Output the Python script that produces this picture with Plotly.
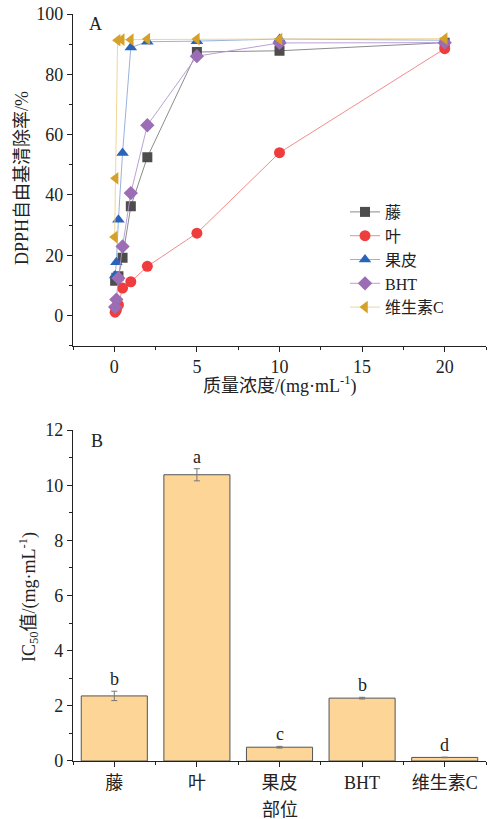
import plotly.graph_objects as go
from plotly.subplots import make_subplots

# ---- Panel A data ----
conc = [0.05, 0.125, 0.25, 0.5, 1, 2, 5, 10, 20]
teng = [11.5, 12.5, 13.0, 19.2, 36.2, 52.5, 87.4, 87.8, 90.5]
ye = [1.1, 1.8, 3.5, 9.1, 11.2, 16.3, 27.3, 54.0, 88.5]
guopi = [13.3, 17.7, 31.8, 53.9, 88.9, 90.8, 91.0, 91.7, 91.3]
bht = [2.8, 5.3, 12.4, 22.9, 40.6, 63.1, 86.0, 90.4, 90.5]
vitc_x = [0.02, 0.08, 0.2, 0.45, 1, 2, 5, 10, 20]
vitc = [26.0, 45.5, 91.3, 91.5, 91.5, 91.7, 91.7, 91.7, 91.8]

series_names = ["藤", "叶", "果皮", "BHT", "维生素C"]

# ---- Panel B data ----
parts = ["藤", "叶", "果皮", "BHT", "维生素C"]
ic50 = [2.36, 10.38, 0.50, 2.28, 0.13]
ic50_err = [0.17, 0.22, 0.03, 0.03, 0.01]
sig_letters = ["b", "a", "c", "b", "d"]

FONT = "Liberation Serif, Times New Roman, Noto Sans CJK SC, serif"
FS = 18
TXT = "#222222"

OFF = 0  # body margin removed by post_script
W, H = 493, 819
ML, MR, MT, MB = 73, 7, 14, 58
PW, PH = W - ML - MR, H - MT - MB


def px(x):  # page pixel -> paper fraction
    return (x - OFF - ML) / PW


def py(y):
    return 1 - (y - OFF - MT) / PH


fig = make_subplots(rows=2, cols=1, vertical_spacing=0.0)

styles = [
    dict(symbol="square", mc="#4d4d4d", lc="rgba(110,110,110,0.8)", size=10),
    dict(symbol="circle", mc="#ef3d3d", lc="rgba(240,110,110,0.8)", size=11),
    dict(symbol="triangle-up", mc="#2a63b8", lc="rgba(140,170,220,0.9)", size=11),
    dict(symbol="diamond", mc="#9a6db5", lc="rgba(180,150,210,0.9)", size=11),
    dict(symbol="triangle-left", mc="#d6a128", lc="rgba(240,210,140,0.9)", size=11),
]
xs = [conc, conc, conc, conc, vitc_x]
ys = [teng, ye, guopi, bht, vitc]
for name, x, y, st in zip(series_names, xs, ys, styles):
    fig.add_trace(go.Scatter(
        x=x, y=y, name=name, mode="lines+markers",
        line=dict(color=st["lc"], width=1),
        marker=dict(symbol=st["symbol"], color=st["mc"], size=st["size"], line=dict(width=0)),
    ), row=1, col=1)

fig.add_trace(go.Bar(
    x=list(range(len(parts))), y=ic50, width=0.8,
    marker=dict(color="#fdd597", line=dict(color="#555555", width=1)),
    error_y=dict(type="data", array=ic50_err, color="#777777", thickness=1, width=3),
    showlegend=False,
), row=2, col=1)

for i, (v, e, s) in enumerate(zip(ic50, ic50_err, sig_letters)):
    fig.add_annotation(x=i, y=v + e, text=s, showarrow=False, yanchor="bottom", yshift=0,
                       font=dict(family=FONT, size=FS, color=TXT), xref="x2", yref="y2")

axis_common = dict(showline=True, linecolor=TXT, linewidth=1.3, ticks="outside",
                   ticklen=5, tickwidth=1.2, tickcolor=TXT, showgrid=False, zeroline=False,
                   mirror=False, automargin=False, ticklabeloverflow="allow",
                   tickfont=dict(family=FONT, size=FS, color=TXT),
                   minor=dict(ticks="outside", ticklen=3, tickwidth=1, tickcolor=TXT))

fig.update_xaxes(axis_common)
fig.update_yaxes(axis_common)

fig.update_layout(
    xaxis=dict(range=[-2.5, 22.5], tickvals=[0, 5, 10, 15, 20], minor=dict(dtick=2.5, tick0=0)),
    yaxis=dict(range=[-10, 100], tickvals=[0, 20, 40, 60, 80, 100], minor=dict(dtick=10, tick0=0),
               domain=[0.556, 1.0]),
    xaxis2=dict(range=[-0.5, 4.5], tickvals=list(range(len(parts))), ticktext=parts,
                minor=dict(dtick=0.5, tick0=0.5)),
    yaxis2=dict(range=[0, 12], tickvals=[0, 2, 4, 6, 8, 10, 12], minor=dict(dtick=1, tick0=0),
                domain=[0.0, 0.443]),
    width=W, height=H,
    margin=dict(l=ML, r=MR, t=MT, b=MB),
    plot_bgcolor="white", paper_bgcolor="white",
    font=dict(family=FONT, size=FS, color=TXT),
    bargap=0.2,
    legend=dict(x=px(345), y=py(195), xanchor="left", yanchor="top", bgcolor="rgba(0,0,0,0)",
                font=dict(family=FONT, size=16, color=TXT), tracegroupgap=0,
                itemwidth=30),
)

titles = [
    dict(text="质量浓度/(mg·mL<sup>-1</sup>)", x=px(280), y=py(385), angle=0),
    dict(text="DPPH自由基清除率/%", x=px(22), y=py(178), angle=-90),
    dict(text="IC<sub>50</sub>值/(mg·mL<sup>-1</sup>)", x=px(28), y=py(597), angle=-90),
    dict(text="部位", x=px(280), y=py(810), angle=0),
    dict(text="A", x=px(95), y=py(24), angle=0),
    dict(text="B", x=px(97), y=py(441), angle=0),
]
for t in titles:
    fig.add_annotation(x=t["x"], y=t["y"], xref="paper", yref="paper", text=t["text"],
                       textangle=t["angle"], showarrow=False, xanchor="center", yanchor="middle",
                       font=dict(family=FONT, size=FS, color=TXT))

fig.write_html("out.html", config={"displayModeBar": False},
               post_script="document.body.style.margin='0';document.body.style.overflow='hidden';")
